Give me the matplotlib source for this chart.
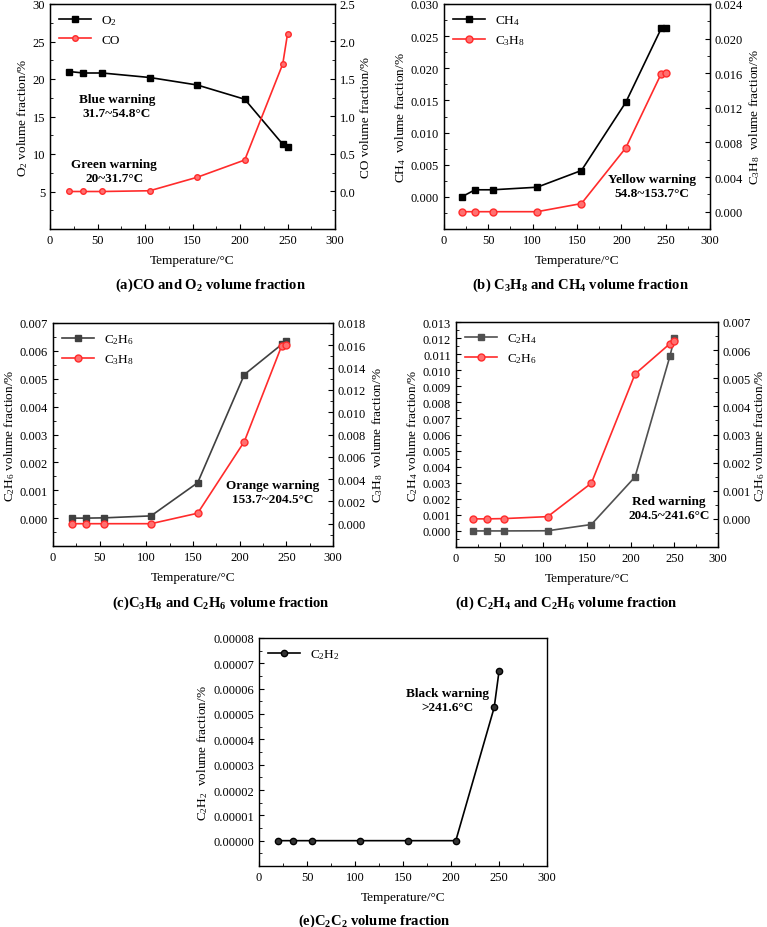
import matplotlib
matplotlib.use("Agg")
import matplotlib.pyplot as plt
from matplotlib.ticker import AutoMinorLocator

plt.rcParams['font.family'] = ['Liberation Serif', 'DejaVu Serif']
plt.rcParams['mathtext.fontset'] = 'custom'
plt.rcParams['mathtext.rm'] = 'Liberation Serif'
plt.rcParams['mathtext.it'] = 'Liberation Serif:italic'
plt.rcParams['mathtext.bf'] = 'Liberation Serif:bold'
plt.rcParams['font.size'] = 9

# temperatures (°C)
temp = [20, 35, 55, 105, 155, 205, 245, 250]

o2 = [21.0, 20.8, 20.8, 20.2, 19.2, 17.3, 11.3, 11.0]
co = [0.0, 0.0, 0.0, 0.01, 0.19, 0.42, 1.70, 2.10]

ch4 = [0.0000, 0.0011, 0.0011, 0.0015, 0.0041, 0.0147, 0.0262, 0.0263]
c3h8 = [0.0, 0.0, 0.0, 0.0, 0.00094, 0.00737, 0.01595, 0.0160]

c2h6 = [0.0, 0.0, 0.00001, 0.00008, 0.00127, 0.00515, 0.00623, 0.00634]
c2h4 = [0.0, 0.0, 0.0, 0.00001, 0.0004, 0.00336, 0.01088, 0.01200]

c2h2 = [0.0, 0.0, 0.0, 0.0, 0.0, 0.0, 0.0000526, 0.0000668]

W, H = 767, 928
fig = plt.figure(figsize=(W / 100, H / 100), dpi=100)

RED = '#ff2b2b'
RED_FACE = '#ff7070'


def rect(l, t, r, b):
    return [l / W, 1 - b / H, (r - l) / W, (b - t) / H]


def style(ax):
    ax.tick_params(direction='in', which='both', top=False, right=False, length=3.5)
    ax.tick_params(which='minor', length=2)
    ax.xaxis.set_minor_locator(AutoMinorLocator(2))
    ax.yaxis.set_minor_locator(AutoMinorLocator(2))
    for s in ax.spines.values():
        s.set_linewidth(1.0)


def base(r, ylim, yticks, ylabel):
    ax = fig.add_axes(rect(*r))
    ax.set_xlim(0, 300)
    ax.set_xticks([0, 50, 100, 150, 200, 250, 300])
    ax.set_ylim(*ylim)
    ax.set_yticks(yticks)
    ax.set_xlabel('Temperature/°C', labelpad=6, fontsize=9.5)
    ax.set_ylabel(ylabel, labelpad=2, fontsize=9.5)
    style(ax)
    return ax


def twin(ax, ylim, yticks, ylabel, fmt, pad=3):
    ax2 = ax.twinx()
    ax2.set_ylim(*ylim)
    ax2.set_yticks(yticks)
    ax2.set_yticklabels([fmt.format(v) for v in yticks])
    ax2.set_ylabel(ylabel, labelpad=pad, fontsize=9.5)
    ax2.tick_params(direction='in', which='both', length=3.5)
    ax2.tick_params(which='minor', length=2)
    ax2.yaxis.set_minor_locator(AutoMinorLocator(2))
    return ax2


def legend(ax, handles):
    ax.legend(handles=handles, loc='upper left', frameon=False, handlelength=2.4,
              labelspacing=0.5, borderaxespad=0.3, fontsize=9.5)


def note(ax, x, y, s):
    ax.text(x, y, s, transform=ax.transAxes, ha='center', va='center',
            fontweight='bold', fontsize=9.5, linespacing=1.25)


def caption(x, y, s):
    fig.text(x / W, 1 - y / H, s, ha='center', va='center', fontweight='bold', fontsize=10.5)


# (a)
ax = base((50, 5, 335, 230), (0, 30), [5, 10, 15, 20, 25, 30], r'O$_2$ volume fraction/%')
ax.set_yticklabels(['5', '10', '15', '20', '25', '30'])
ax2 = twin(ax, (-0.5, 2.5), [0.0, 0.5, 1.0, 1.5, 2.0, 2.5], 'CO volume fraction/%', '{:.1f}')
l1, = ax.plot(temp, o2, '-s', color='black', ms=4, lw=1.2, label=r'O$_2$')
l2, = ax2.plot(temp, co, '-o', color=RED, mfc=RED_FACE, ms=4, lw=1.2, label='CO')
legend(ax, [l1, l2])
note(ax, 0.235, 0.547, 'Blue warning\n31.7~54.8°C')
note(ax, 0.225, 0.258, 'Green warning\n20~31.7°C')
caption(210, 285, r'(a)CO and O$_\mathbf{2}$ volume fraction')

# (b)
yt = [0.000, 0.005, 0.010, 0.015, 0.020, 0.025, 0.030]
ax = base((444, 5, 710, 230), (-0.005, 0.030), yt, r'CH$_4$  volume fraction/%')
ax.set_yticklabels(['{:.3f}'.format(v) for v in yt])
ax2 = twin(ax, (-0.002, 0.024), [0.000, 0.004, 0.008, 0.012, 0.016, 0.020, 0.024],
           r'C$_3$H$_8$  volume fraction/%', '{:.3f}')
l1, = ax.plot(temp, ch4, '-s', color='black', ms=4.5, lw=1.2, label=r'CH$_4$')
l2, = ax2.plot(temp, c3h8, '-o', color=RED, mfc=RED_FACE, ms=5, lw=1.2, label=r'C$_3$H$_8$')
legend(ax, [l1, l2])
note(ax, 0.782, 0.191, 'Yellow warning\n54.8~153.7°C')
caption(581, 285, r'(b) C$_\mathbf{3}$H$_\mathbf{8}$ and CH$_\mathbf{4}$ volume fraction')

# (c)
yt = [0.000, 0.001, 0.002, 0.003, 0.004, 0.005, 0.006, 0.007]
ax = base((53, 324, 333, 547), (-0.001, 0.007), yt, r'C$_2$H$_6$ volume fraction/%')
ax.set_yticklabels(['{:.3f}'.format(v) for v in yt])
yt2 = [0.000, 0.002, 0.004, 0.006, 0.008, 0.010, 0.012, 0.014, 0.016, 0.018]
ax2 = twin(ax, (-0.002, 0.018), yt2, r'C$_3$H$_8$  volume fraction/%', '{:.3f}')
l1, = ax.plot(temp, c2h6, '-s', color='#404040', ms=4, lw=1.2, label=r'C$_2$H$_6$')
l2, = ax2.plot(temp, c3h8, '-o', color=RED, mfc=RED_FACE, ms=5, lw=1.2, label=r'C$_3$H$_8$')
legend(ax, [l1, l2])
note(ax, 0.786, 0.242, 'Orange warning\n153.7~204.5°C')
caption(221, 603, r'(c)C$_\mathbf{3}$H$_\mathbf{8}$ and C$_\mathbf{2}$H$_\mathbf{6}$ volume fraction')

# (d)
yt = [i / 1000 for i in range(0, 14)]
ax = base((456, 323, 718, 548), (-0.001, 0.013), yt, r'C$_2$H$_4$ volume fraction/%')
ax.set_yticklabels(['{:.3f}'.format(v) for v in yt])
yt2 = [i / 1000 for i in range(0, 8)]
ax2 = twin(ax, (-0.001, 0.007), yt2, r'C$_2$H$_6$ volume fraction/%', '{:.3f}', pad=0.5)
l1, = ax.plot(temp, c2h4, '-s', color='#505050', ms=4, lw=1.2, label=r'C$_2$H$_4$')
l2, = ax2.plot(temp, c2h6, '-o', color=RED, mfc=RED_FACE, ms=5, lw=1.2, label=r'C$_2$H$_6$')
legend(ax, [l1, l2])
note(ax, 0.813, 0.173, 'Red warning\n204.5~241.6°C')
caption(566, 603, r'(d) C$_\mathbf{2}$H$_\mathbf{4}$ and C$_\mathbf{2}$H$_\mathbf{6}$ volume fraction')

# (e)
yt = [i * 0.00001 for i in range(0, 9)]
ax = base((259, 639, 547, 867), (-0.00001, 0.00008), yt, r'C$_2$H$_2$  volume fraction/%')
ax.set_yticklabels(['{:.5f}'.format(v) for v in yt])
l1, = ax.plot(temp, c2h2, '-o', color='black', mfc='#333333', ms=4.5, lw=1.2, label=r'C$_2$H$_2$')
legend(ax, [l1])
note(ax, 0.656, 0.728, 'Black warning\n>241.6°C')
caption(374, 921, r'(e)C$_\mathbf{2}$C$_\mathbf{2}$ volume fraction')

fig.savefig('out.png', dpi=100)
